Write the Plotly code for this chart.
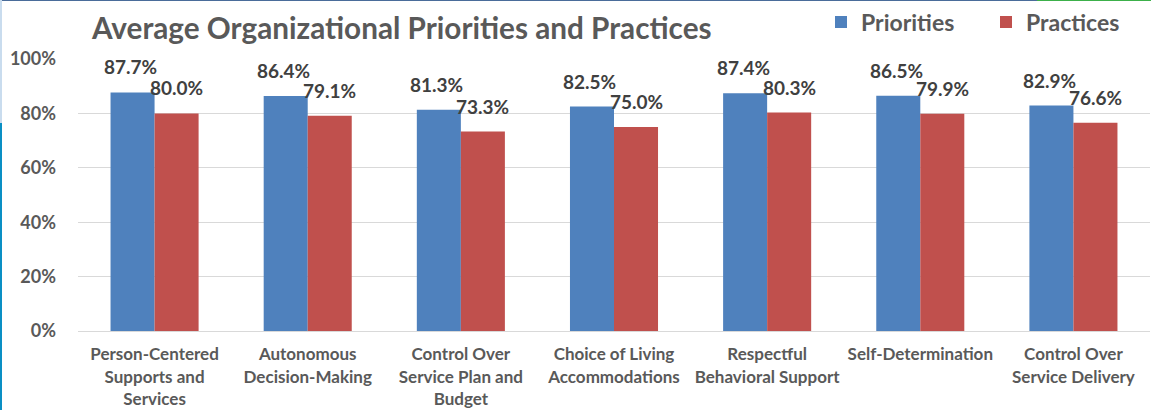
import plotly.graph_objects as go

categories = [
    "Person-Centered<br>Supports and<br>Services",
    "Autonomous<br>Decision-Making",
    "Control Over<br>Service Plan and<br>Budget",
    "Choice of Living<br>Accommodations",
    "Respectful<br>Behavioral Support",
    "Self-Determination",
    "Control Over<br>Service Delivery",
]
priorities = [87.7, 86.4, 81.3, 82.5, 87.4, 86.5, 82.9]
practices = [80.0, 79.1, 73.3, 75.0, 80.3, 79.9, 76.6]
y_ticks = [0, 20, 40, 60, 80, 100]
y_tick_labels = ["0%", "20%", "40%", "60%", "80%", "100%"]

W, H = 1151, 410
ML, MR, MT, MB = 78, 1, 59, 79
PW, PH = W - ML - MR, H - MT - MB

FONT = "Lato"
GRAY = "#595959"
LABEL = "#404040"
BARGAP = 0.425
BAR_PX = (1 - BARGAP) / 2 * PW / len(categories)

fig = go.Figure()
fig.add_trace(go.Bar(
    name="<b>Priorities</b>", x=categories, y=priorities,
    marker=dict(color="#4f81bd", line=dict(width=0)),
))
fig.add_trace(go.Bar(
    name="<b>Practices</b>", x=categories, y=practices,
    marker=dict(color="#c0504d", line=dict(width=0)),
))

annotations = []
for series, sign, dx in ((priorities, -1, -2), (practices, 1, 0)):
    for cat, v in zip(categories, series):
        annotations.append(dict(
            x=cat, y=v, xref="x", yref="y", text=f"<b>{v:.1f}%</b>",
            showarrow=False, xanchor="center", yanchor="bottom",
            xshift=sign * BAR_PX / 2 + dx, yshift=12,
            font=dict(family=FONT, size=19, color=LABEL),
        ))

def px_x(p):
    return (p - ML) / PW

def px_y(p):
    return (H - MB - p) / PH

shapes = [
    dict(type="line", xref="paper", yref="paper", x0=px_x(0), x1=px_x(1037), y0=px_y(0.5), y1=px_y(0.5),
         line=dict(color="#4a6c9a", width=1)),
    dict(type="line", xref="paper", yref="paper", x0=px_x(1037), x1=px_x(W), y0=px_y(0.5), y1=px_y(0.5),
         line=dict(color="#3cb04a", width=1)),
    dict(type="line", xref="paper", yref="paper", x0=px_x(1), x1=px_x(1), y0=px_y(0), y1=px_y(123),
         line=dict(color="#c9dcee", width=2)),
    dict(type="line", xref="paper", yref="paper", x0=px_x(1), x1=px_x(1), y0=px_y(123), y1=px_y(H),
         line=dict(color="#0a8fc4", width=2)),
]

fig.update_layout(
    width=W, height=H,
    margin=dict(l=ML, r=MR, t=MT, b=MB, autoexpand=False),
    paper_bgcolor="white", plot_bgcolor="white",
    barmode="group", bargap=BARGAP, bargroupgap=0,
    font=dict(family=FONT, color=GRAY),
    title=dict(text="<b>Average Organizational Priorities and Practices</b>",
               x=92 / W, xanchor="left", xref="container",
               y=1 - 29 / H, yanchor="middle", yref="container",
               font=dict(family=FONT, size=29.7, color=GRAY)),
    showlegend=True,
    legend=dict(orientation="h", x=px_x(821), xanchor="left", y=px_y(22), yanchor="middle",
                font=dict(family=FONT, size=23, color=GRAY), itemwidth=30,
                traceorder="normal", bgcolor="rgba(0,0,0,0)",
                entrywidthmode="pixels", entrywidth=120),
    xaxis=dict(tickfont=dict(family=FONT, size=17, color=GRAY), showline=True,
               linecolor="#d9d9d9", linewidth=1, ticks="", showgrid=False,
               ticklabelstandoff=8),
    yaxis=dict(range=[0, 100], tickvals=y_ticks, ticktext=[f"<b>{t}</b>" for t in y_tick_labels],
               tickfont=dict(family=FONT, size=18, color=GRAY),
               showgrid=True, gridcolor="#d9d9d9", gridwidth=1, zeroline=False,
               ticks="", ticklabelstandoff=21),
    shapes=shapes,
    annotations=annotations,
)
fig.update_xaxes(tickprefix="<b>", ticksuffix="</b>")
fig.write_html("out.html")
